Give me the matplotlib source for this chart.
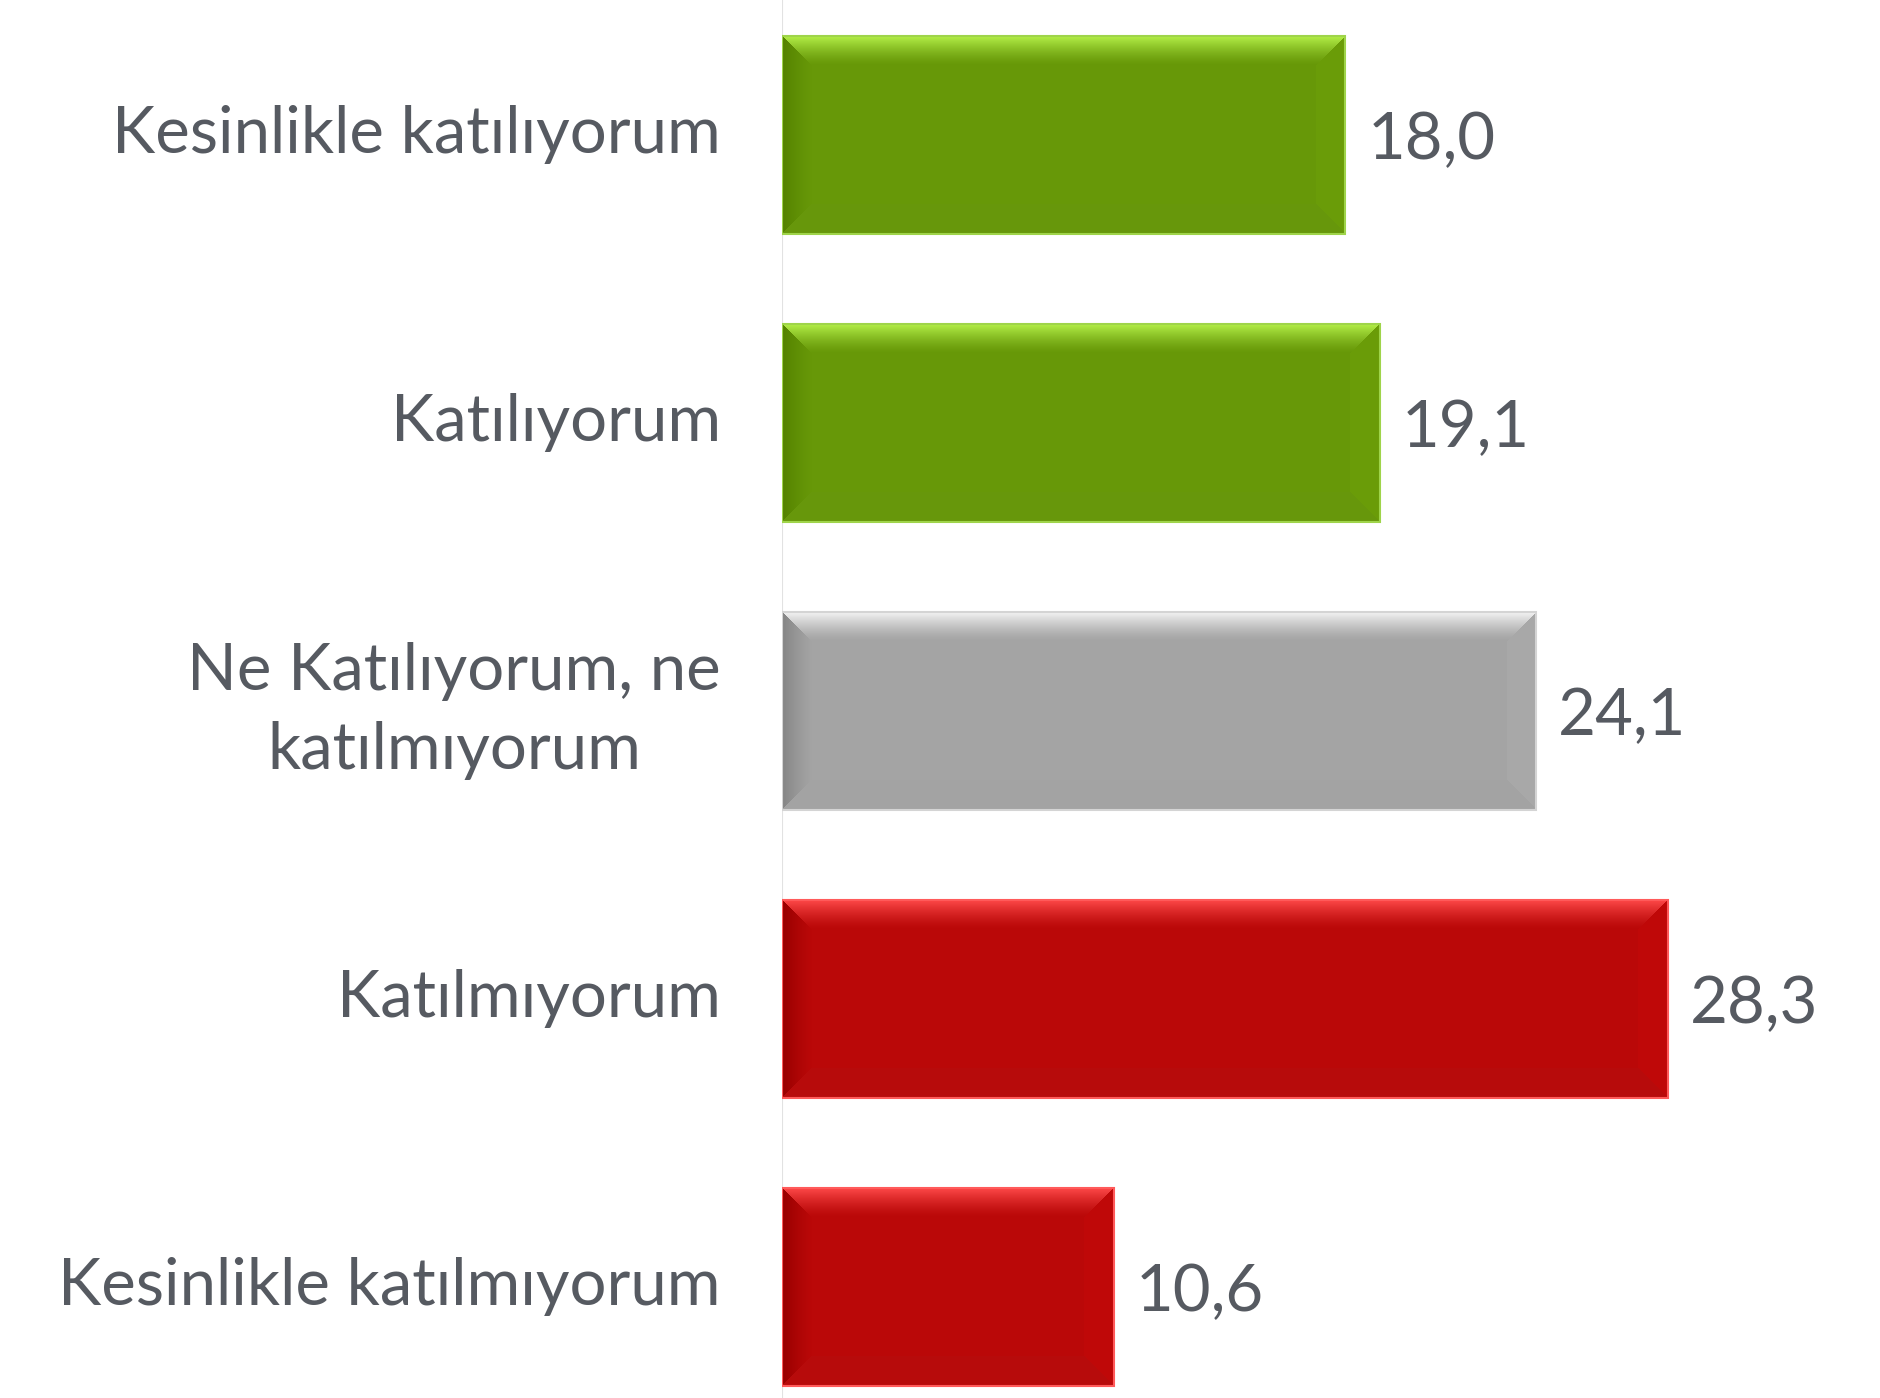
import numpy as np
import matplotlib.pyplot as plt
from matplotlib.colors import to_rgb

plt.rcParams['font.family'] = ['Lato', 'DejaVu Sans']

categorias = ['Kesinlikle katılıyorum', 'Katılıyorum',
              'Ne Katılıyorum, ne\nkatılmıyorum', 'Katılmıyorum',
              'Kesinlikle katılmıyorum']
valores = [18.0, 19.1, 24.1, 28.3, 10.6]
etiquetas = ['18,0', '19,1', '24,1', '28,3', '10,6']

# base, brillo superior, borde izquierdo, contorno
paletas = {
    'verde': ('#679808', '#b6f24a', '#548200', '#9fd44a'),
    'gris': ('#a4a4a4', '#f6f6f6', '#858585', '#d4d4d4'),
    'rojo': ('#ba0808', '#ff4a4a', '#980000', '#ff5a5a'),
}
colores_barra = ['verde', 'verde', 'gris', 'rojo', 'rojo']

TEXTO = '#565a61'
DPI = 100
ANCHO, ALTO = 1880, 1398


def textura_bisel(w_px, h_px, paleta, bisel=30):
    base, brillo, oscuro, _ = [np.array(to_rgb(c)) for c in paleta]
    yy, xx = np.mgrid[0:h_px, 0:w_px].astype(float)
    d = np.stack([yy, h_px - 1 - yy, xx, w_px - 1 - xx])
    lado = np.argmin(d, axis=0)
    t = np.clip(np.min(d, axis=0) / bisel, 0, 1)

    img = np.empty((h_px, w_px, 3))
    img[:] = base
    # arriba: brillo que se funde con la base
    m = (lado == 0) & (t < 1)
    k = (1 - t[m]) ** 1.4
    img[m] = base + (brillo - base) * k[:, None]
    # izquierda: más oscuro
    m = (lado == 2) & (t < 1)
    k = (1 - t[m]) ** 1.3
    img[m] = base + (oscuro - base) * k[:, None]
    # derecha y abajo: casi la base
    m = (lado == 3) & (t < 1)
    img[m] = base * 1.03
    m = (lado == 1) & (t < 1)
    img[m] = base * 0.97 + (brillo - base) * 0.05
    return np.clip(img, 0, 1)


fig = plt.figure(figsize=(ANCHO / DPI, ALTO / DPI), dpi=DPI)
x0 = 782 / ANCHO
ax = fig.add_axes([x0, 0, 1 - x0, 1])

paso_px = 288
centro0 = 135
y = np.arange(len(valores))
escala = 31.3  # px por unidad
ax.set_xlim(0, (ANCHO - 782) / escala)
ax.set_ylim((ALTO - centro0) / paso_px, -centro0 / paso_px)

barras = ax.barh(y, valores, height=0.69, color='none')

for barra, nombre, etiqueta in zip(barras, colores_barra, etiquetas):
    paleta = paletas[nombre]
    x, yb = barra.get_x(), barra.get_y()
    w, h = barra.get_width(), barra.get_height()
    w_px = int(round(w * escala))
    h_px = int(round(h * paso_px))
    img = textura_bisel(w_px, h_px, paleta)
    ax.imshow(img, extent=(x, x + w, yb + h, yb), aspect='auto',
              interpolation='none', zorder=2)
    ax.add_patch(plt.Rectangle((x, yb), w, h, fill=False,
                               edgecolor=paleta[3], linewidth=1.5, zorder=3))
    ax.text(x + w + 22 / escala, yb + h / 2, etiqueta, va='center_baseline',
            ha='left', fontsize=47, color=TEXTO)

for yi, cat in zip(y, categorias):
    fig.text(721 / ANCHO, 1 - (centro0 + yi * paso_px) / ALTO, cat,
             ha='right', va='center', fontsize=47, color=TEXTO,
             linespacing=1.4, multialignment='center')

ax.axvline(0, color='#e2e2e2', linewidth=1.5, zorder=1)
ax.set_xticks([])
ax.set_yticks([])
for s in ax.spines.values():
    s.set_visible(False)

plt.savefig('out.png', dpi=DPI)
